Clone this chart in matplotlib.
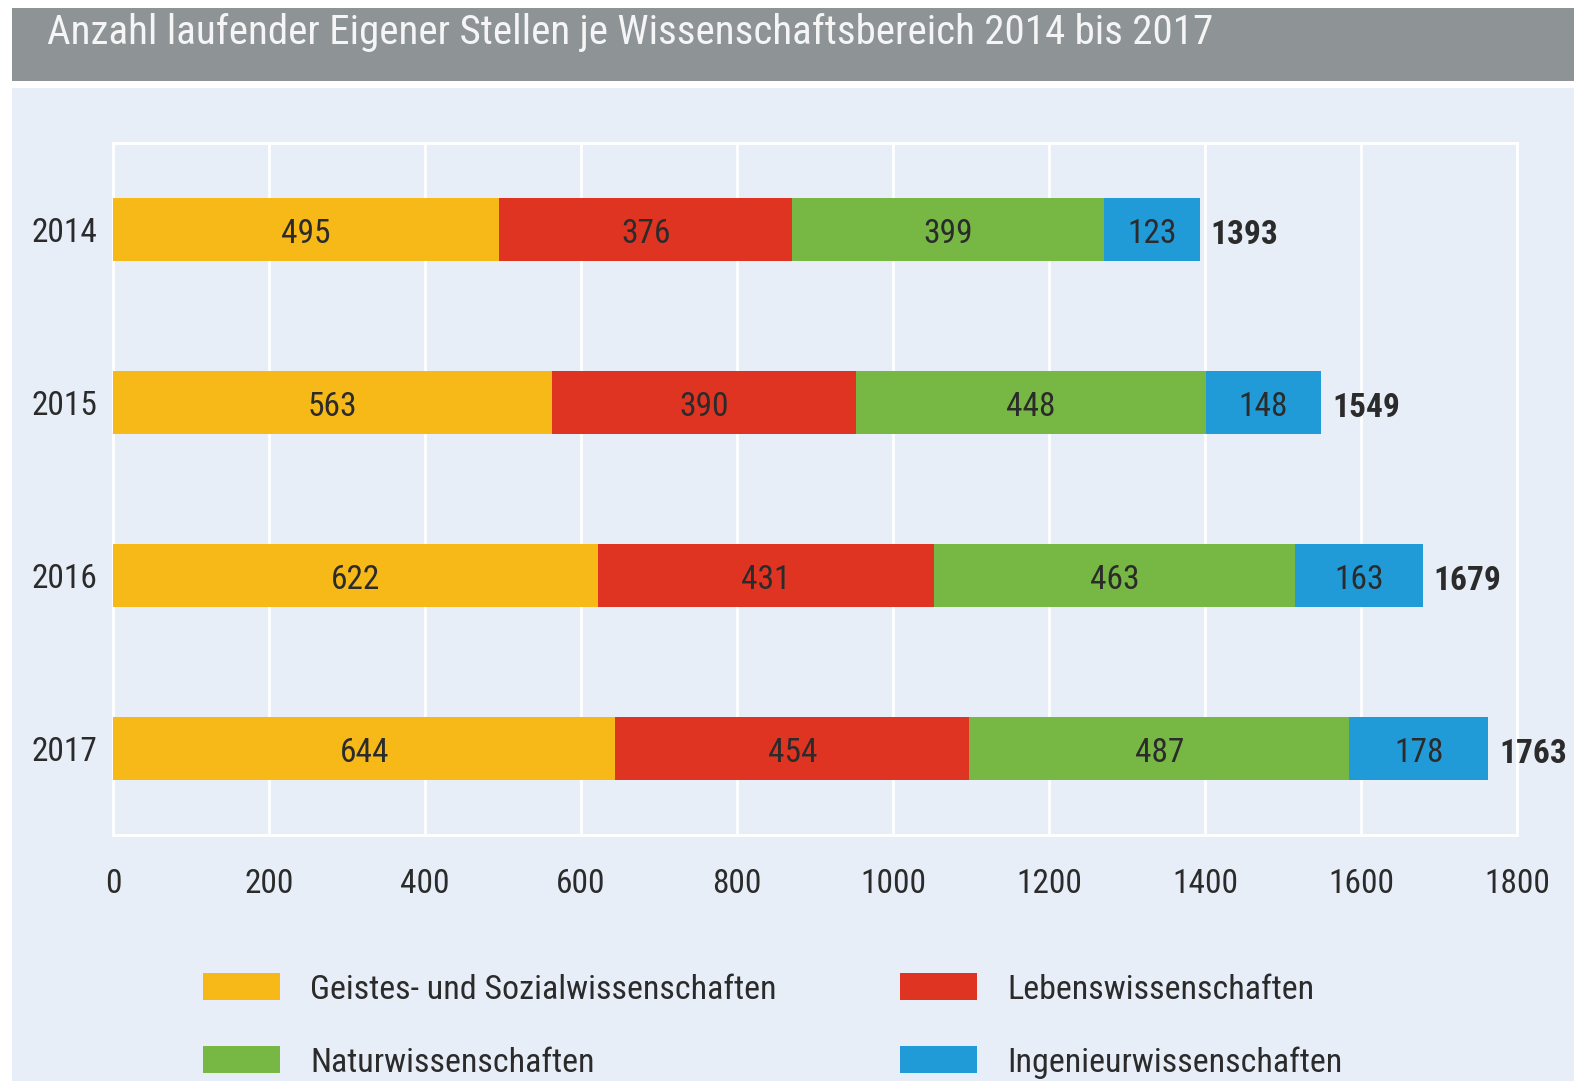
import matplotlib.pyplot as plt
from matplotlib.patches import Rectangle
import numpy as np

plt.rcParams['font.family'] = ['Liberation Sans Narrow', 'Roboto Condensed', 'Open Sans', 'DejaVu Sans']

# Daten
jahre = ['2014', '2015', '2016', '2017']
bereiche = ['Geistes- und Sozialwissenschaften', 'Lebenswissenschaften',
            'Naturwissenschaften', 'Ingenieurwissenschaften']
geistes = [495, 563, 622, 644]
leben = [376, 390, 431, 454]
natur = [399, 448, 463, 487]
ingenieur = [123, 148, 163, 178]
summen = [1393, 1549, 1679, 1763]
x_ticks = [0, 200, 400, 600, 800, 1000, 1200, 1400, 1600, 1800]

farben = ['#F7B918', '#E03422', '#76B843', '#219BD7']
bg = '#E7EEF8'
textfarbe = '#2b2b2b'

W, H = 1574, 1081
fig = plt.figure(figsize=(W / 100, H / 100), dpi=100)
fig.patch.set_facecolor('white')

# Hintergrund und Titelbalken
fig.add_artist(Rectangle((12 / W, 0), 1 - 12 / W, 1 - 88 / H, transform=fig.transFigure,
                         facecolor=bg, edgecolor='none', zorder=0))
fig.add_artist(Rectangle((12 / W, 1 - 81 / H), 1 - 12 / W, 73 / H, transform=fig.transFigure,
                         facecolor='#8E9496', edgecolor='none', zorder=0))
fig.text(47 / W, 1 - 32 / H, 'Anzahl laufender Eigener Stellen je Wissenschaftsbereich 2014 bis 2017',
         color='#F5F5F5', fontsize=29.5, va='center', ha='left')

ax = fig.add_axes([113 / W, 1 - 835 / H, (1517 - 113) / W, (835 - 143) / H])
ax.set_facecolor('none')

y = np.arange(len(jahre))
left = np.zeros(len(jahre))
for werte, farbe, name in zip([geistes, leben, natur, ingenieur], farben, bereiche):
    ax.barh(y, werte, left=left, height=0.36, color=farbe, zorder=3, label=name)
    for yi, l, v in zip(y, left, werte):
        ax.annotate(str(v), (l + v / 2, yi), xytext=(0, -3), textcoords='offset points',
                    ha='center', va='center', fontsize=24, color=textfarbe, zorder=4)
    left += np.array(werte)

for yi, s in zip(y, summen):
    ax.annotate(str(s), (s, yi), xytext=(8, -4), textcoords='offset points',
                ha='left', va='center', fontsize=24, fontweight='bold', color=textfarbe)

ax.set_xlim(0, 1800)
ax.set_ylim(3.5, -0.5)
ax.set_xticks(x_ticks)
ax.set_xticklabels([str(t) for t in x_ticks])
ax.set_yticks(y)
ax.set_yticklabels(jahre)
ax.tick_params(length=0, labelsize=24, colors=textfarbe)
ax.tick_params(axis='x', pad=24)
ax.tick_params(axis='y', pad=11)
ax.grid(axis='x', color='white', linewidth=2, zorder=1)
ax.set_axisbelow(True)
for sp in ax.spines.values():
    sp.set_color('white')
    sp.set_linewidth(2)

# Legende
legende = [(203, 987, 0), (900, 987, 1), (203, 1060, 2), (900, 1060, 3)]
for px, py, i in legende:
    fig.add_artist(Rectangle((px / W, 1 - (py + 13) / H), 77 / W, 27 / H,
                             transform=fig.transFigure, facecolor=farben[i], edgecolor='none'))
    fig.text((px + 107) / W, 1 - (py + 3) / H, bereiche[i], fontsize=24.5, va='center', ha='left',
             color=textfarbe)

fig.savefig('out.png', dpi=100)
